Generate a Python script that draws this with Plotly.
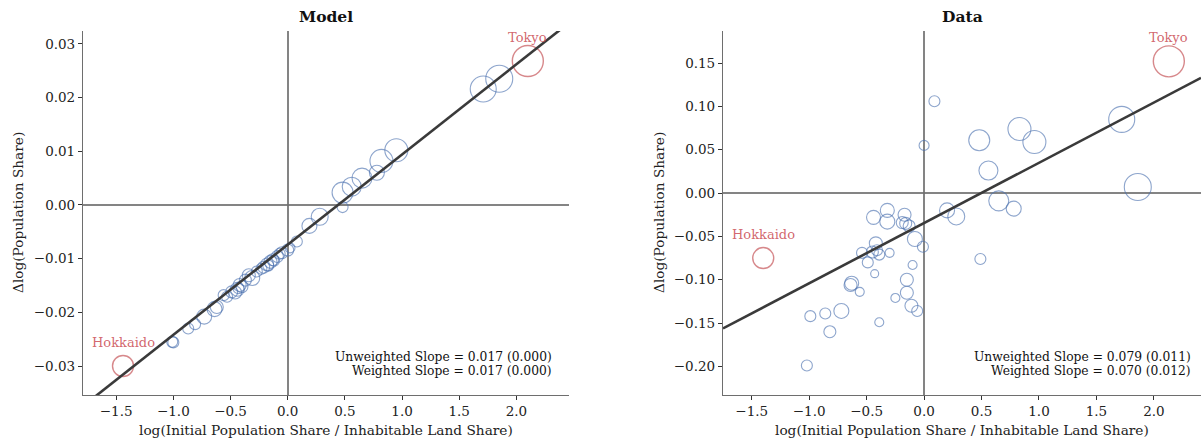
import plotly.graph_objects as go

# ---------------- data ----------------
# Model panel
model_x = [1.85, 1.71, 0.95, 0.82, 0.78, 0.65, 0.56, 0.48, 0.48, 0.28, 0.19, 0.08, 0.00, -0.05,
           -0.09, -0.15, -0.18, -0.21, -0.13, -0.31, -0.34, -0.27, -0.42, -0.44, -0.46, -0.49,
           -0.40, -0.53, -0.64, -0.62, -0.73, -0.81, -0.87, -1.01, -1.00, -0.17, -0.07, -0.37,
           -0.56, -0.43, 0.02, -0.23, -0.12]
model_y = [0.0235, 0.0216, 0.0102, 0.0082, 0.0060, 0.0050, 0.0034, 0.0023, -0.0004, -0.0022,
           -0.0039, -0.0068, -0.0084, -0.0089, -0.0096, -0.0106, -0.0111, -0.0116, -0.0102,
           -0.0136, -0.0131, -0.0124, -0.0149, -0.0157, -0.0163, -0.0162, -0.0152, -0.0171,
           -0.0194, -0.0190, -0.0208, -0.0222, -0.0230, -0.0255, -0.0256, -0.0113, -0.0091,
           -0.0140, -0.0168, -0.0155, -0.0080, -0.0119, -0.0104]
model_size = [27, 26, 23, 23, 15, 20, 19, 21, 11, 17, 15, 11, 12, 12, 12, 13, 13, 12, 12, 15, 13,
              11, 13, 14, 13, 12, 12, 11, 15, 13, 15, 11, 11, 11, 11, 11, 11, 12, 11, 11, 10, 11, 11]

# Data panel
data_x = [1.72, 1.86, 0.96, 0.83, 0.48, 0.56, 0.65, 0.78, 0.20, 0.28, 0.49, 0.09, 0.00, -0.17,
          -0.19, -0.16, -0.13, -0.08, -0.01, -0.32, -0.44, -0.32, -0.42, -0.54, -0.45, -0.39,
          -0.30, -0.49, -0.43, -0.10, -0.63, -0.64, -0.56, -0.15, -0.15, -0.25, -0.11, -0.06,
          -0.72, -0.86, -0.99, -0.39, -0.82, -1.02, -0.41]
data_y = [0.085, 0.007, 0.059, 0.074, 0.061, 0.026, -0.009, -0.018, -0.020, -0.027, -0.076,
          0.106, 0.055, -0.025, -0.034, -0.035, -0.038, -0.053, -0.062, -0.020, -0.028, -0.033,
          -0.058, -0.069, -0.068, -0.071, -0.069, -0.080, -0.093, -0.083, -0.104, -0.106,
          -0.114, -0.100, -0.115, -0.121, -0.130, -0.136, -0.136, -0.139, -0.142, -0.149,
          -0.160, -0.199, -0.066]
data_size = [26, 27, 23, 23, 21, 19, 20, 15, 15, 17, 11, 11, 10, 13, 12, 12, 12, 15, 11, 14, 14,
             15, 13, 11, 12, 11, 9, 11, 8, 9, 14, 13, 9, 13, 13, 9, 13, 11, 15, 11, 11, 9, 12,
             11, 11]

# Highlighted prefectures: name, model (x, y), data (x, y), size
hl_names = ["Tokyo", "Hokkaido"]
hl_model_x = [2.10, -1.44]
hl_model_y = [0.0268, -0.0300]
hl_data_x = [2.13, -1.40]
hl_data_y = [0.152, -0.075]
hl_size = [31, 21]

# Fitted (weighted) lines
model_slope, model_intercept = 0.0168, -0.0074
data_slope, data_intercept = 0.0695, -0.0346

model_text = ["Unweighted Slope = 0.017 (0.000)", "Weighted Slope = 0.017 (0.000)"]
data_text = ["Unweighted Slope = 0.079 (0.011)", "Weighted Slope = 0.070 (0.012)"]

# axis ranges / ticks
model_xrange = [-1.79, 2.46]
model_yrange = [-0.0354, 0.0324]
data_xrange = [-1.75, 2.41]
data_yrange = [-0.233, 0.187]
x_ticks = [-1.5, -1.0, -0.5, 0.0, 0.5, 1.0, 1.5, 2.0]
x_ticklabels = ["−1.5", "−1.0", "−0.5", "0.0", "0.5", "1.0", "1.5", "2.0"]
model_yticks = [-0.03, -0.02, -0.01, 0.0, 0.01, 0.02, 0.03]
model_yticklabels = ["−0.03", "−0.02", "−0.01", "0.00", "0.01", "0.02", "0.03"]
data_yticks = [-0.20, -0.15, -0.10, -0.05, 0.0, 0.05, 0.10, 0.15]
data_yticklabels = ["−0.20", "−0.15", "−0.10", "−0.05", "0.00", "0.05", "0.10", "0.15"]

# ---------------- figure ----------------
W, H = 1201, 439
FONT = "DejaVu Serif"
BLUE = "rgba(76,114,176,0.9)"
RED = "rgba(196,78,82,0.95)"
RED_TXT = "rgba(205,85,92,0.9)"
LINE = "#3a3a3a"

fig = go.Figure()

panels = [
    dict(xa="x", ya="y", xs=model_x, ys=model_y, ss=model_size, hx=hl_model_x, hy=hl_model_y,
         slope=model_slope, icpt=model_intercept, xr=model_xrange),
    dict(xa="x2", ya="y2", xs=data_x, ys=data_y, ss=data_size, hx=hl_data_x, hy=hl_data_y,
         slope=data_slope, icpt=data_intercept, xr=data_xrange),
]

for p in panels:
    fig.add_trace(go.Scatter(
        x=p["xs"], y=p["ys"], mode="markers", xaxis=p["xa"], yaxis=p["ya"],
        marker=dict(size=p["ss"], color="rgba(0,0,0,0)", line=dict(color=BLUE, width=1.1)),
        showlegend=False, hoverinfo="skip"))
    fig.add_trace(go.Scatter(
        x=p["hx"], y=p["hy"], mode="markers", xaxis=p["xa"], yaxis=p["ya"],
        marker=dict(size=hl_size, color="rgba(0,0,0,0)", line=dict(color=RED, width=1.4)),
        showlegend=False, hoverinfo="skip"))
    lx = [p["xr"][0], p["xr"][1]]
    ly = [p["slope"] * v + p["icpt"] for v in lx]
    fig.add_trace(go.Scatter(
        x=lx, y=ly, mode="lines", xaxis=p["xa"], yaxis=p["ya"],
        line=dict(color=LINE, width=2.6), showlegend=False, hoverinfo="skip"))
    # labels above highlighted circles
    for name, hx, hy in zip(hl_names, p["hx"], p["hy"]):
        fig.add_annotation(x=hx, y=hy, xref=p["xa"], yref=p["ya"], text=name, showarrow=False,
                           yshift=23.5, font=dict(family=FONT, size=13, color=RED_TXT))

y_bot, y_top = (H - 395) / H, (H - 31) / H
common_axis = dict(showline=True, linecolor="#6e6e6e", linewidth=1.2, ticks="outside",
                   ticklen=4, tickwidth=1, tickcolor="#333", showgrid=False,
                   zeroline=True, zerolinecolor="rgba(110,110,110,0.85)", zerolinewidth=1.8,
                   tickfont=dict(family=FONT, size=13.5, color="#222"), mirror=False)

fig.update_layout(
    width=W, height=H, margin=dict(l=0, r=0, t=0, b=0),
    paper_bgcolor="white", plot_bgcolor="white",
    xaxis=dict(domain=[83 / W, 569 / W], range=model_xrange, anchor="y",
               tickvals=x_ticks, ticktext=x_ticklabels, **common_axis),
    yaxis=dict(domain=[y_bot, y_top], range=model_yrange, anchor="x",
               tickvals=model_yticks, ticktext=model_yticklabels, **common_axis),
    xaxis2=dict(domain=[723 / W, 1.0], range=data_xrange, anchor="y2",
                tickvals=x_ticks, ticktext=x_ticklabels, **common_axis),
    yaxis2=dict(domain=[y_bot, y_top], range=data_yrange, anchor="x2",
                tickvals=data_yticks, ticktext=data_yticklabels, **common_axis),
)

# titles, axis labels, slope texts
for title, cx, ylab_x, rx, texts in [("Model", 326, 18, 554, model_text),
                                       ("Data", 962, 659, 1193, data_text)]:
    fig.add_annotation(x=cx / W, y=(H - 17) / H, xref="paper", yref="paper", text="<b>" + title + "</b>",
                       showarrow=False, font=dict(family=FONT, size=15.5, color="#111"),
                       xanchor="center", yanchor="middle")
    fig.add_annotation(x=cx / W, y=(H - 430) / H, xref="paper", yref="paper",
                       text="log(Initial Population Share / Inhabitable Land Share)",
                       showarrow=False, font=dict(family=FONT, size=13.7, color="#222"),
                       xanchor="center", yanchor="middle")
    fig.add_annotation(x=ylab_x / W, y=(H - 213) / H, xref="paper", yref="paper",
                       text="Δlog(Population Share)", textangle=-90,
                       showarrow=False, font=dict(family=FONT, size=13.7, color="#222"),
                       xanchor="center", yanchor="middle")
    for i, t in enumerate(texts):
        fig.add_annotation(x=rx / W, y=(H - (357 + 14 * i)) / H, xref="paper", yref="paper",
                           text=t, showarrow=False, font=dict(family=FONT, size=12.3, color="#111"),
                           xanchor="right", yanchor="middle")

fig.write_html("out.html")
